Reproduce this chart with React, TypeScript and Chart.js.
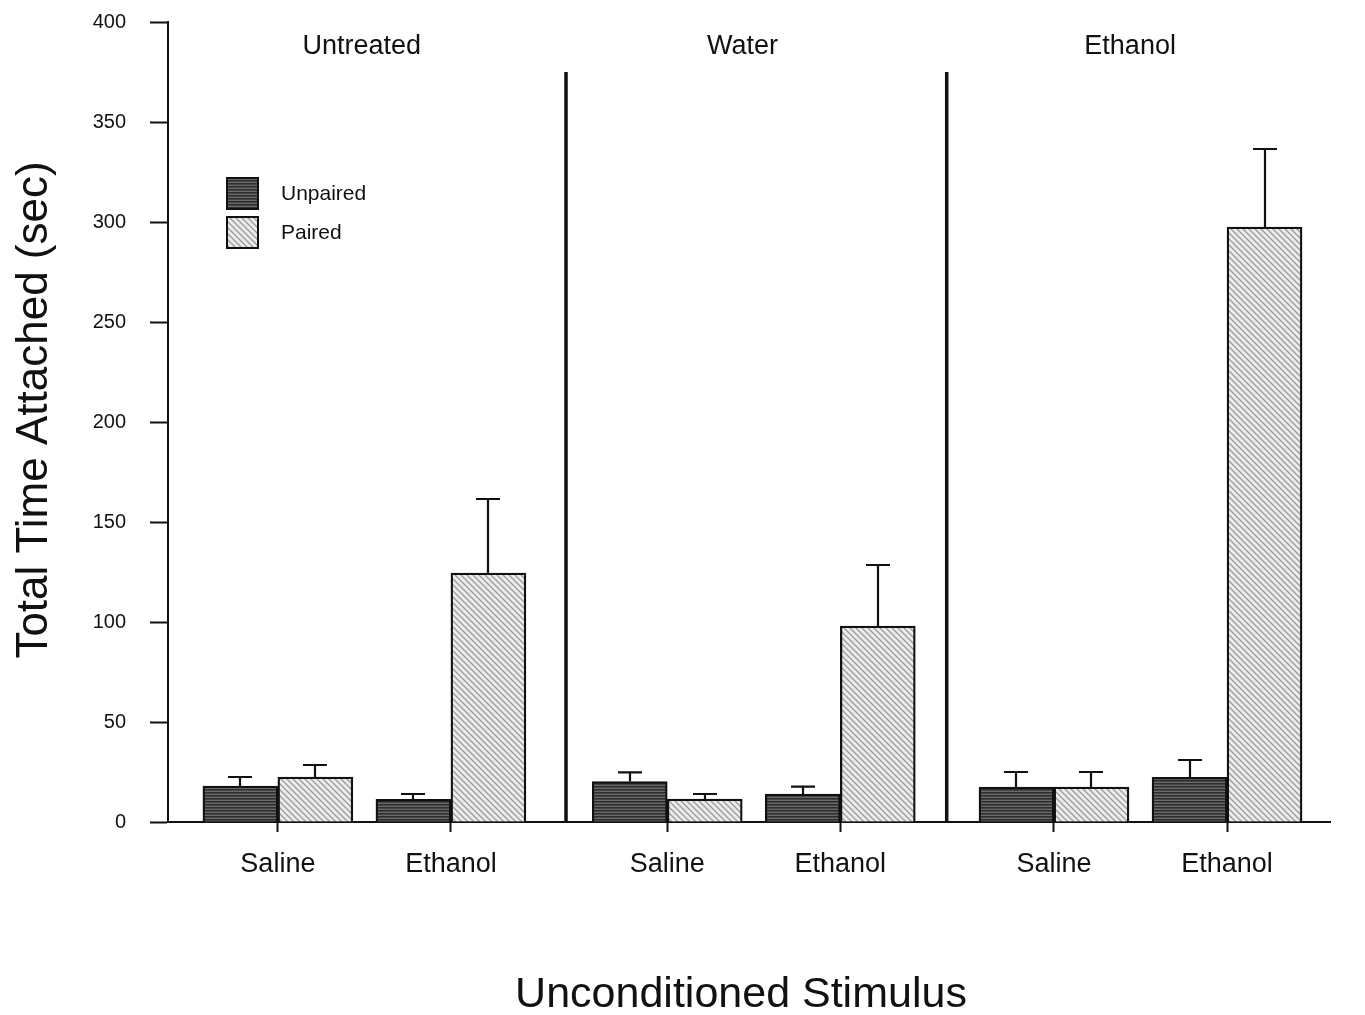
import React, { useEffect, useRef } from 'react';
import { Chart, registerables } from 'chart.js';

Chart.register(...registerables);

// ---- data ----
const groupNames = ['Untreated', 'Water', 'Ethanol'];
const xLabels = ['Saline', 'Ethanol', 'Saline', 'Ethanol', 'Saline', 'Ethanol'];
const xPositions = [1.27, 3.27, 5.77, 7.77, 10.24, 12.24];
const groupLabelPositions = [2.24, 6.64, 11.12];
const separatorPositions = [4.6, 9.0];
const seriesNames = ['Unpaired', 'Paired'];
const unpairedValues = [18, 11.3, 20.2, 14, 17.5, 22.3];
const unpairedErrors = [4.5, 2.7, 4.6, 3.7, 7.5, 8.7];
const pairedValues = [22.5, 124.5, 11.5, 98, 17.5, 297.5];
const pairedErrors = [6, 37, 2.5, 30.5, 7.5, 39];
const yTickValues = [0, 50, 100, 150, 200, 250, 300, 350, 400];
const yTitle = 'Total Time Attached (sec)';
const xTitle = 'Unconditioned Stimulus';

const FONT = '"Liberation Sans", Arial, Helvetica, sans-serif';
const INK = '#111';

function makeUnpairedPattern(): CanvasPattern | string {
  const c = document.createElement('canvas');
  c.width = 4; c.height = 3;
  const g = c.getContext('2d');
  if (!g) return '#555';
  g.fillStyle = '#6a6a6a';
  g.fillRect(0, 0, 4, 3);
  g.fillStyle = '#2e2e2e';
  g.fillRect(0, 0, 4, 1.6);
  return g.createPattern(c, 'repeat') || '#555';
}

function makePairedPattern(): CanvasPattern | string {
  const s = 6;
  const c = document.createElement('canvas');
  c.width = s; c.height = s;
  const g = c.getContext('2d');
  if (!g) return '#ddd';
  g.fillStyle = '#ececec';
  g.fillRect(0, 0, s, s);
  g.strokeStyle = '#9a9a9a';
  g.lineWidth = 1.3;
  g.beginPath();
  g.moveTo(-1, -1); g.lineTo(s + 1, s + 1);
  g.moveTo(-1 - s, -1); g.lineTo(1, s + 1);
  g.moveTo(s - 1, -1); g.lineTo(2 * s + 1, s + 1);
  g.stroke();
  return g.createPattern(c, 'repeat') || '#ddd';
}

export default function App() {
  const ref = useRef<HTMLCanvasElement | null>(null);

  useEffect(() => {
    document.body.style.margin = '0';
    const canvas = ref.current;
    if (!canvas) return;
    const unpairedFill = makeUnpairedPattern();
    const pairedFill = makePairedPattern();
    const errorSets = [unpairedErrors, pairedErrors];
    const fills = [unpairedFill, pairedFill];

    const overlay = {
      id: 'overlay',
      afterDatasetsDraw(chart: any) {
        const ctx = chart.ctx as CanvasRenderingContext2D;
        const xs = chart.scales.x;
        const ys = chart.scales.y;
        ctx.save();
        // error bars
        ctx.strokeStyle = INK;
        ctx.lineWidth = 2.2;
        chart.data.datasets.forEach((ds: any, di: number) => {
          const meta = chart.getDatasetMeta(di);
          meta.data.forEach((el: any, i: number) => {
            const v = ds.data[i].y;
            const top = ys.getPixelForValue(v + errorSets[di][i]);
            const x = Math.round(el.x);
            ctx.beginPath();
            ctx.moveTo(x, el.y);
            ctx.lineTo(x, top);
            ctx.moveTo(x - 12, top);
            ctx.lineTo(x + 12, top);
            ctx.stroke();
          });
        });
        // separators
        ctx.lineWidth = 3.5;
        separatorPositions.forEach((p) => {
          const x = xs.getPixelForValue(p);
          ctx.beginPath();
          ctx.moveTo(x, ys.getPixelForValue(375));
          ctx.lineTo(x, ys.getPixelForValue(0));
          ctx.stroke();
        });
        // group labels
        ctx.fillStyle = INK;
        ctx.font = `27px ${FONT}`;
        ctx.textAlign = 'center';
        ctx.textBaseline = 'middle';
        groupNames.forEach((g, i) => {
          ctx.fillText(g, xs.getPixelForValue(groupLabelPositions[i]), ys.getPixelForValue(387.5));
        });
        // axis titles
        ctx.font = `43px ${FONT}`;
        ctx.fillText(xTitle, 741, 995);
        ctx.save();
        ctx.translate(35, 410);
        ctx.rotate(-Math.PI / 2);
        ctx.font = `44px ${FONT}`;
        ctx.fillText(yTitle, 0, 0);
        ctx.restore();
        // legend
        const lx = chart.chartArea.left + 59;
        const ly = ys.getPixelForValue(322);
        ctx.lineWidth = 2;
        ctx.textAlign = 'left';
        ctx.font = `21px ${FONT}`;
        seriesNames.forEach((name, i) => {
          const y = ly + i * 39;
          ctx.fillStyle = fills[i] as any;
          ctx.fillRect(lx, y, 31, 31);
          ctx.strokeStyle = INK;
          ctx.strokeRect(lx, y, 31, 31);
          ctx.fillStyle = INK;
          ctx.fillText(name, lx + 54, y + 16);
        });
        ctx.restore();
      },
    };

    const chart = new Chart(canvas, {
      type: 'bar',
      data: {
        datasets: [
          {
            label: seriesNames[0],
            data: xPositions.map((x, i) => ({ x, y: unpairedValues[i] })),
            backgroundColor: unpairedFill as any,
            borderColor: INK,
            borderWidth: 2.3,
            borderSkipped: 'start',
            barThickness: 75,
          },
          {
            label: seriesNames[1],
            data: xPositions.map((x, i) => ({ x, y: pairedValues[i] })),
            backgroundColor: pairedFill as any,
            borderColor: INK,
            borderWidth: 2.3,
            borderSkipped: 'start',
            barThickness: 75,
          },
        ],
      },
      options: {
        responsive: false,
        animation: false,
        layout: { autoPadding: false, padding: { top: 22, right: 35, left: 0, bottom: 0 } },
        plugins: { legend: { display: false }, tooltip: { enabled: false } },
        scales: {
          x: {
            type: 'linear',
            min: 0,
            max: 13.43,
            offset: false,
            grid: { display: true, drawOnChartArea: false, drawTicks: true, tickLength: 10, tickWidth: 2, tickColor: INK, offset: false },
            border: { display: true, color: INK, width: 2 },
            afterBuildTicks: (scale: any) => {
              scale.ticks = xPositions.map((v) => ({ value: v }));
            },
            afterFit: (scale: any) => {
              scale.height = 193;
              scale.paddingLeft = 0; scale.paddingRight = 0;
              scale.paddingTop = 0; scale.paddingBottom = 0;
            },
            ticks: {
              autoSkip: false,
              maxRotation: 0,
              padding: 16,
              color: INK,
              font: { family: FONT, size: 27 },
              callback: (_v: any, idx: number) => xLabels[idx],
            },
            title: { display: false },
          },
          y: {
            type: 'linear',
            min: 0,
            max: 400,
            grid: { display: true, drawOnChartArea: false, drawTicks: true, tickLength: 18, tickWidth: 2, tickColor: INK },
            border: { display: true, color: INK, width: 2 },
            afterBuildTicks: (scale: any) => {
              scale.ticks = yTickValues.map((v) => ({ value: v }));
            },
            afterFit: (scale: any) => {
              scale.width = 168;
              scale.paddingTop = 0; scale.paddingBottom = 0;
              scale.paddingLeft = 0; scale.paddingRight = 0;
            },
            ticks: {
              padding: 24,
              color: INK,
              font: { family: FONT, size: 20 },
            },
            title: { display: false },
          },
        },
      },
      plugins: [overlay],
    } as any);

    return () => chart.destroy();
  }, []);

  return (
    <div style={{ width: 1365, height: 1015, background: '#fff' }}>
      <canvas ref={ref} width={1365} height={1015} style={{ display: 'block' }} />
    </div>
  );
}
